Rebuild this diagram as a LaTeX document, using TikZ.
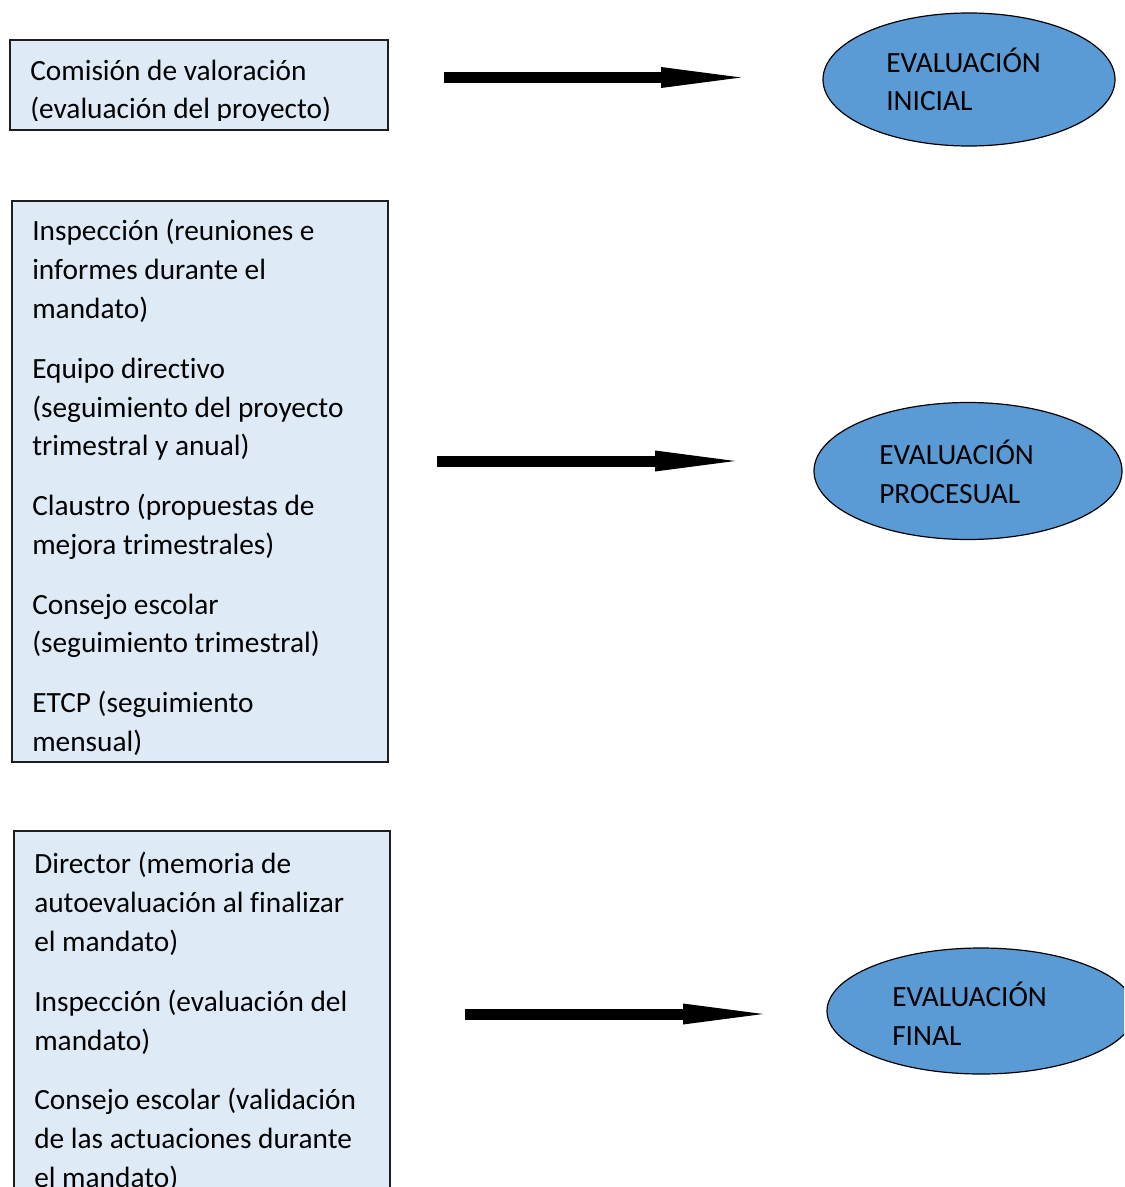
\documentclass[tikz,border=0pt]{standalone}
\usepackage{fontspec}
\setmainfont{Carlito}[Ligatures={NoCommon}]
\usetikzlibrary{arrows.meta,shapes.geometric,fit}
\definecolor{boxfill}{RGB}{222,235,247}
\definecolor{ellfill}{RGB}{91,155,213}
\definecolor{edge}{RGB}{30,30,30}
\begin{document}
\begin{tikzpicture}[x=0.75pt,y=-0.75pt,
  box/.style={draw=edge,line width=1.1pt,fill=boxfill,inner sep=0pt},
  oval/.style={ellipse,draw=black,line width=0.9pt,fill=ellfill,inner sep=0pt},
  txt/.style={anchor=north west,inner sep=0pt,align=left,
    font=\fontsize{22pt}{29.1pt}\selectfont},
  bigarrow/.style={line width=8.25pt,line cap=butt,
    -{Triangle[length=60pt,width=15.75pt,line width=0pt]}}]
\useasboundingbox (0,0) rectangle (1124,1187);
\clip (0,0) rectangle (1124,1187);

% boxes
\node[box,fit={(10,40) (388,130)}] (b1) {};
\node[box,fit={(12,201) (388,762)}] (b2) {};
\node[box,fit={(14,831) (390,1230)}] (b3) {};

\begin{scope}
\clip (11,41) rectangle (387,121);
\node[txt] (t1) at (30,52.7) {\strut Comisión de valoración\\(evaluación del proyecto)};
\end{scope}
\begin{scope}
\clip (13,202) rectangle (387,755);
\node[txt] (t2) at (32,213.5) {\strut Inspección (reuniones e\\informes durante el\\mandato)\\[15.7pt]
Equipo directivo\\(seguimiento del proyecto\\trimestral y anual)\\[15.7pt]
Claustro (propuestas de\\mejora trimestrales)\\[15.7pt]
Consejo escolar\\(seguimiento trimestral)\\[15.7pt]
ETCP (seguimiento\\mensual)};
\end{scope}
\begin{scope}
\clip (15,832) rectangle (389,1187);
\node[txt] (t3) at (34,846.5) {\strut Director (memoria de\\autoevaluación al finalizar\\el mandato)\\[15.7pt]
Inspección (evaluación del\\mandato)\\[15.7pt]
Consejo escolar (validación\\de las actuaciones durante\\el mandato)};
\end{scope}

% ellipses
\node[oval,minimum width=219pt,minimum height=99.75pt] (e1) at (969,79.5) {};
\node[oval,minimum width=231pt,minimum height=102.75pt] (e2) at (968,471) {};
\node[oval,minimum width=231pt,minimum height=94.5pt] (e3) at (981,1011) {};
\node[txt] (et1) at (886,44.7) {\strut EVALUACIÓN\\INICIAL};
\node[txt] (et2) at (879,437.4) {\strut EVALUACIÓN\\PROCESUAL};
\node[txt] (et3) at (892,979.4) {\strut EVALUACIÓN\\FINAL};

% arrows
\coordinate (a1s) at (444,77.5);
\coordinate (a1e) at (741,77.5);
\coordinate (a2s) at (437,461);
\coordinate (a2e) at (735,461);
\coordinate (a3s) at (465,1014);
\coordinate (a3e) at (763,1014);
\draw[bigarrow] (a1s) -- (a1e);
\draw[bigarrow] (a2s) -- (a2e);
\draw[bigarrow] (a3s) -- (a3e);
\end{tikzpicture}
\end{document}
